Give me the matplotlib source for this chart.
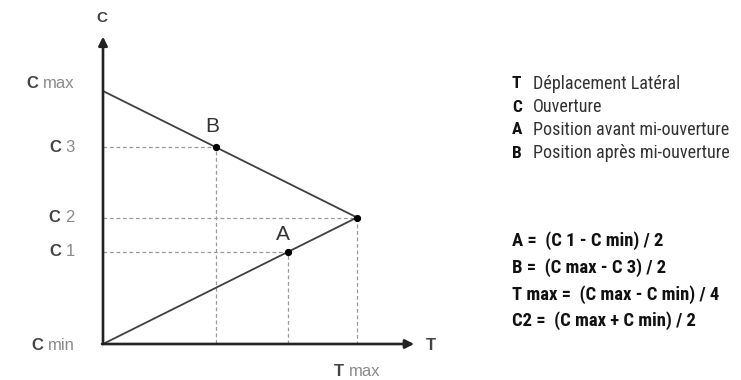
import matplotlib.pyplot as plt
from matplotlib.transforms import IdentityTransform

# diagram values (T scaled so that T max = 1, C scaled so that C max = 10)
T_MAX = 1.0
C_MIN, C1, C2, C3, C_MAX = 0.0, 3.64, 5.0, 7.78, 10.0
T_A, T_B = 0.728, 0.445

c_levels = [C_MAX, C3, C2, C1, C_MIN]
c_suffix = ['max', '3', '2', '1', 'min']

legend_keys = ['T', 'C', 'A', 'B']
legend_text = ['Déplacement Latéral', 'Ouverture',
               'Position avant mi-ouverture', 'Position après mi-ouverture']
formulas = ['A =  (C 1 - C min) / 2', 'B =  (C max - C 3) / 2',
            'T max =  (C max - C min) / 4', 'C2 =  (C max + C min) / 2']

W, H = 741, 380
fig = plt.figure(figsize=(W / 100, H / 100), dpi=100)
ax = fig.add_axes([103 / W, 36 / H, 254 / W, 253 / H])
ax.set_xlim(0, T_MAX)
ax.set_ylim(C_MIN, C_MAX)
ax.axis('off')

arial = ['Liberation Sans', 'DejaVu Sans']
cond = ['Roboto Condensed', 'Roboto', 'DejaVu Sans']
dash = dict(color='#9a9a9a', lw=0.9, ls=(0, (3, 2.2)), clip_on=False)

# dashed guides
ax.plot([0, T_B, T_B], [C3, C3, C_MIN], **dash)
ax.plot([0, T_MAX, T_MAX], [C2, C2, C_MIN], **dash)
ax.plot([0, T_A, T_A], [C1, C1, C_MIN], **dash)

# the two slopes
ax.plot([0, T_MAX], [C_MAX, C2], color='#404040', lw=1.3, clip_on=False)
ax.plot([0, T_MAX], [C_MIN, C2], color='#404040', lw=1.3, clip_on=False)

# axes with arrows
arrow = dict(arrowstyle='-|>', lw=1.9, color='#222222', mutation_scale=13,
             shrinkA=0, shrinkB=0)
ax.annotate('', xy=(0, 12.15), xytext=(0, C_MIN), arrowprops=arrow,
            annotation_clip=False)
ax.annotate('', xy=(1.225, C_MIN), xytext=(-0.004, C_MIN), arrowprops=arrow,
            annotation_clip=False)

# points
ax.plot([T_B, T_MAX, T_A], [C3, C2, C1], 'o', color='black', ms=4.2,
        clip_on=False, zorder=5)
ax.annotate('B', (T_B, C3), xytext=(-4, 21), textcoords='offset pixels',
            ha='center', va='center', fontsize=15, color='#333333',
            family=arial)
ax.annotate('A', (T_A, C1), xytext=(-5, 17), textcoords='offset pixels',
            ha='center', va='center', fontsize=15, color='#333333',
            family=arial)

fig.canvas.draw()
r = fig.canvas.get_renderer()
idt = IdentityTransform()


def pair(x, y, bold, rest, anchor='right', size=12, gap=5):
    t1 = fig.text(0, 0, bold, transform=idt, fontsize=size, fontweight='bold',
                  color='#444444', family=arial, ha='left', va='center')
    t2 = fig.text(0, 0, rest, transform=idt, fontsize=size, color='#8a8a8a',
                  family=arial, ha='left', va='center')
    w1 = t1.get_window_extent(r).width
    w2 = t2.get_window_extent(r).width
    left = x - w1 - gap - w2 if anchor == 'right' else x - (w1 + gap + w2) / 2
    t1.set_position((left, y))
    t2.set_position((left + w1 + gap, y))


label_dy = [8, 0, 0, 0, -1]
for c, s, dy in zip(c_levels, c_suffix, label_dy):
    y = ax.transData.transform((0, c))[1] + dy
    pair(75, y, 'C', s)

x_tmax = ax.transData.transform((T_MAX, 0))[0]
pair(x_tmax, H - 372, 'T', 'max', anchor='center')

fig.text(102, H - 18, 'C', transform=idt, fontsize=11, fontweight='bold',
         color='#444444', family=arial, ha='center', va='center')
fig.text(431, H - 346, 'T', transform=idt, fontsize=12, fontweight='bold',
         color='#444444', family=arial, ha='center', va='center')

# legend on the right
for i, (k, t) in enumerate(zip(legend_keys, legend_text)):
    y = H - (84 + 23 * i)
    fig.text(512, y, k, transform=idt, fontsize=12.5, fontweight='bold',
             color='#111111', family=cond, ha='left', va='center')
    fig.text(533, y, t, transform=idt, fontsize=13.1, color='#333333',
             family=cond, ha='left', va='center')

for i, f in enumerate(formulas):
    y = H - (241 + 26.7 * i)
    fig.text(512, y, f, transform=idt, fontsize=13.4, fontweight='bold',
             color='#111111', family=cond, ha='left', va='center')

fig.savefig('out.png', dpi=100)
